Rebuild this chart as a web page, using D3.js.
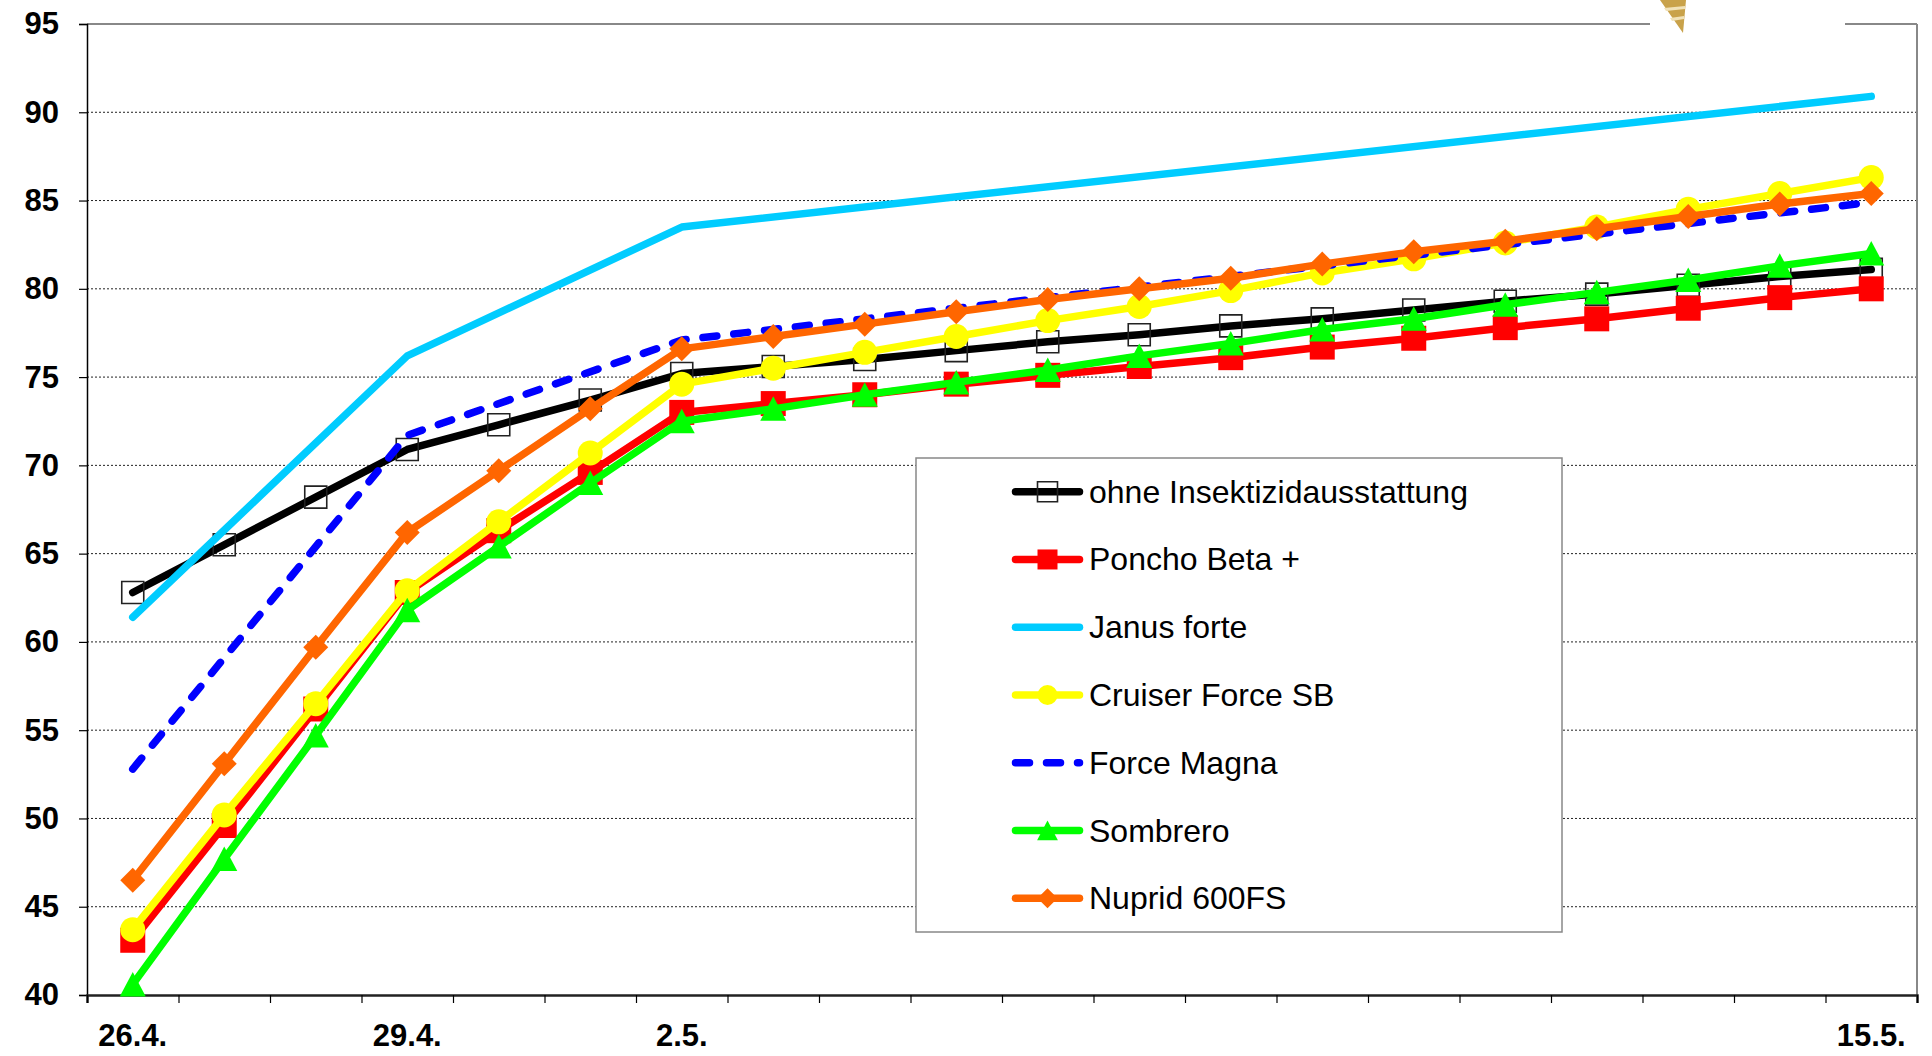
<!DOCTYPE html>
<html>
<head>
<meta charset="utf-8">
<script src="https://cdn.jsdelivr.net/npm/d3@7"></script>
<style>
  html, body { margin: 0; padding: 0; background: #fff; }
  svg { display: block; }
  text { font-family: "Liberation Sans", Arial, sans-serif; }
</style>
</head>
<body>
<svg id="chart" width="1932" height="1056"></svg>
<script>
// ---- data ----
const categories = ["26.4.","27.4.","28.4.","29.4.","30.4.","1.5.","2.5.","3.5.","4.5.","5.5.",
                    "6.5.","7.5.","8.5.","9.5.","10.5.","11.5.","12.5.","13.5.","14.5.","15.5."];
const shownLabels = ["26.4.","29.4.","2.5.","15.5."];
const yTicks = [40,45,50,55,60,65,70,75,80,85,90,95];
const seriesNames = ["ohne Insektizidausstattung","Poncho Beta +","Janus forte","Cruiser Force SB",
                     "Force Magna","Sombrero","Nuprid 600FS"];

const ohne     = [62.8,65.5,68.2,70.9,72.3,73.7,75.2,75.6,76.0,76.5,77.0,77.4,77.9,78.3,78.8,79.3,79.7,80.2,80.7,81.1];
const poncho   = [43.1,49.6,56.2,62.8,66.3,69.6,73.0,73.5,74.0,74.6,75.1,75.6,76.1,76.7,77.2,77.8,78.3,78.9,79.5,80.0];
const janus    = [61.4,null,null,76.2,null,null,83.5,null,null,null,null,null,null,null,null,null,null,null,null,90.9];
const cruiser  = [43.7,50.2,56.5,62.9,66.8,70.7,74.6,75.5,76.4,77.3,78.2,79.0,79.9,80.9,81.7,82.6,83.5,84.5,85.4,86.3];
const magna    = [52.8,null,null,71.7,null,null,77.1,null,null,null,null,null,null,null,null,null,null,null,null,84.9];
const sombrero = [40.6,47.7,54.7,61.8,65.4,69.0,72.5,73.2,74.0,74.7,75.4,76.2,76.9,77.7,78.3,79.1,79.8,80.5,81.3,82.0];
const nuprid   = [46.5,53.1,59.7,66.2,69.7,73.2,76.6,77.3,78.0,78.7,79.4,80.0,80.6,81.4,82.1,82.7,83.4,84.1,84.8,85.4];

// ---- styles ----
const styles = [
  {values: ohne,     color: "#000000", marker: "openSquare", dash: null},
  {values: poncho,   color: "#FF0000", marker: "square",     dash: null},
  {values: janus,    color: "#00CCFF", marker: null,         dash: null},
  {values: cruiser,  color: "#FFFF00", marker: "circle",     dash: null},
  {values: magna,    color: "#0000FF", marker: null,         dash: "14,17"},
  {values: sombrero, color: "#00FF00", marker: "triangle",   dash: null},
  {values: nuprid,   color: "#FF6600", marker: "diamond",    dash: null}
];

const L = 87, R = 1917, T = 24, B = 995;
const svg = d3.select("#chart");

const x = d3.scaleBand().domain(categories).range([L, R]).padding(0);
const xB = d3.scaleLinear().domain([0, categories.length]).range([L, R]);
const y = d3.scaleLinear().domain([40, 95]).range([B, T]);
const cx = c => x(c) + x.bandwidth() / 2;

// gridlines
svg.append("g").selectAll("line").data(yTicks.filter(v => v > 40 && v < 95)).join("line")
  .attr("x1", L).attr("x2", R).attr("y1", d => y(d)).attr("y2", d => y(d))
  .attr("stroke", "#222").attr("stroke-width", 1).attr("stroke-dasharray", "2,2");

// plot border (top, right)
svg.append("line").attr("x1", L).attr("x2", R).attr("y1", T).attr("y2", T)
  .attr("stroke", "#888").attr("stroke-width", 2);
svg.append("line").attr("x1", R).attr("x2", R).attr("y1", T).attr("y2", B)
  .attr("stroke", "#888").attr("stroke-width", 2);

// y axis
const yAxis = svg.append("g").attr("transform", `translate(${L},0)`)
  .call(d3.axisLeft(y).tickValues(yTicks).tickSize(8).tickPadding(20).tickFormat(d3.format("d")));
yAxis.select(".domain").attr("stroke", "#000").attr("stroke-width", 1.5);
yAxis.selectAll(".tick line").attr("stroke", "#000").attr("stroke-width", 1.2);
yAxis.selectAll("text").attr("font-size", 31).attr("font-weight", "bold")
  .attr("fill", "#000").attr("font-family", "Liberation Sans, Arial, sans-serif");

// x axis tick marks at category boundaries
const xTicksAxis = svg.append("g").attr("transform", `translate(0,${B})`)
  .call(d3.axisBottom(xB).tickValues(d3.range(0, categories.length + 1)).tickSize(8).tickFormat(""));
xTicksAxis.select(".domain").attr("stroke", "#222").attr("stroke-width", 2.5);
xTicksAxis.selectAll(".tick line").attr("stroke", "#000").attr("stroke-width", 1.2);

// x labels
const xLab = svg.append("g").attr("transform", `translate(0,${B})`)
  .call(d3.axisBottom(x).tickSize(0).tickPadding(29)
        .tickFormat(d => shownLabels.includes(d) ? d : ""));
xLab.select(".domain").remove();
xLab.selectAll("text").attr("font-size", 31).attr("font-weight", "bold")
  .attr("fill", "#000").attr("font-family", "Liberation Sans, Arial, sans-serif");

// marker paths
function markerPath(type, s) {
  const h = s / 2;
  switch (type) {
    case "openSquare":
    case "square":   return `M${-h},${-h}H${h}V${h}H${-h}Z`;
    case "circle":   return d3.symbol(d3.symbolCircle, Math.PI * h * h)();
    case "triangle": return `M0,${-h}L${h * 1.04},${h * 0.96}L${-h * 1.04},${h * 0.96}Z`;
    case "diamond":  return `M0,${-h}L${h},0L0,${h}L${-h},0Z`;
  }
  return "";
}
function drawMarker(g, type, color, s) {
  const p = g.append("path").attr("d", markerPath(type, s));
  if (type === "openSquare") {
    p.attr("fill", "none").attr("stroke", "#222").attr("stroke-width", 1.6);
  } else {
    p.attr("fill", color);
  }
}

const line = d3.line().x(d => cx(d.c)).y(d => y(d.v));

// series
styles.forEach(st => {
  const pts = categories.map((c, i) => ({c, v: st.values[i]})).filter(d => d.v != null);
  const g = svg.append("g");
  g.append("path").datum(pts).attr("d", line)
    .attr("fill", "none").attr("stroke", st.color).attr("stroke-width", 7.5)
    .attr("stroke-linejoin", "round").attr("stroke-linecap", "round")
    .attr("stroke-dasharray", st.dash);
  if (st.marker) {
    pts.forEach(d => {
      const mg = g.append("g").attr("transform", `translate(${cx(d.c)},${y(d.v)})`);
      drawMarker(mg, st.marker, st.color, st.marker === "openSquare" ? 22 : 25);
    });
  }
});

// logo area (top right)
svg.append("rect").attr("x", 1650).attr("y", 0).attr("width", 195).attr("height", 37).attr("fill", "#fff");
svg.append("path").attr("d", "M1660,0L1686,0L1683,33Z").attr("fill", "#c9a24a");
svg.append("path").attr("d", "M1664,8L1685,6L1685,9L1666,11Z").attr("fill", "#f1e2b8");
svg.append("path").attr("d", "M1670,18L1684,16L1684,19L1672,21Z").attr("fill", "#f1e2b8");

// legend
const lg = svg.append("g");
lg.append("rect").attr("x", 916).attr("y", 458).attr("width", 646).attr("height", 474)
  .attr("fill", "#fff").attr("stroke", "#888").attr("stroke-width", 1.5);
const rowY = d3.scaleLinear().domain([0, 6]).range([491.7, 898.3]);
seriesNames.forEach((name, i) => {
  const st = styles[i];
  const ry = rowY(i);
  lg.append("line").attr("x1", 1015.5).attr("x2", 1079.5).attr("y1", ry).attr("y2", ry)
    .attr("stroke", st.color).attr("stroke-width", 7.5).attr("stroke-linecap", "round")
    .attr("stroke-dasharray", st.dash);
  if (st.marker) {
    const mg = lg.append("g").attr("transform", `translate(1047.5,${ry})`);
    drawMarker(mg, st.marker, st.color, 20);
  }
  lg.append("text").attr("x", 1089).attr("y", ry + 11).attr("font-size", 32)
    .attr("fill", "#000").text(name);
});
</script>
</body>
</html>
